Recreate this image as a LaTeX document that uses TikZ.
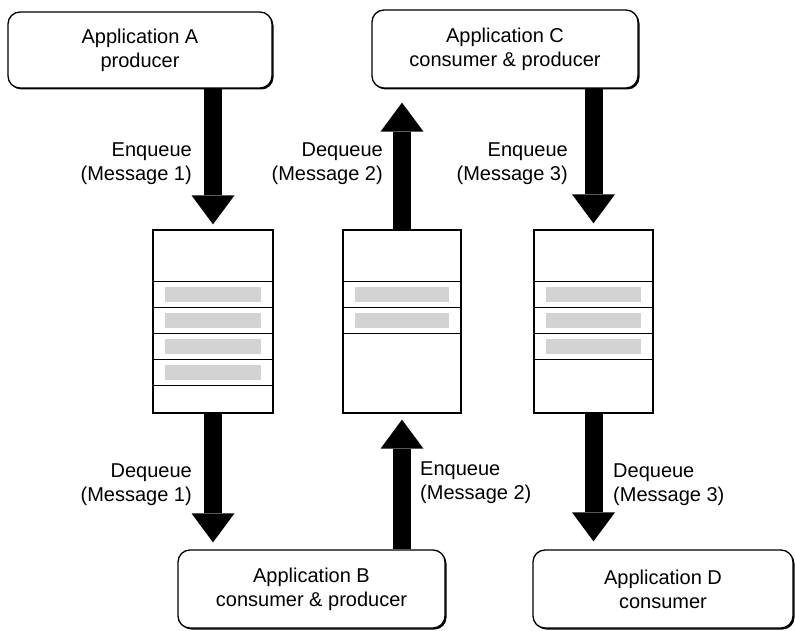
\documentclass[tikz,border=0pt]{standalone}
\usepackage{fontspec}
\setmainfont{Liberation Sans}
\usetikzlibrary{arrows.meta,calc,shadows}
\definecolor{slot}{RGB}{211,211,211}
\begin{document}
\begin{tikzpicture}[x=1pt,y=-1pt,
  txt/.style={font=\fontsize{20}{24}\selectfont, inner sep=0pt},
  app/.style={txt, draw, line width=1.3pt, fill=white, rounded corners=12pt,
    minimum width=#1, minimum height=78pt, align=center,
    drop shadow={shadow xshift=1.5pt, shadow yshift=-1.5pt, opacity=1, fill=black}},
  queue/.style={draw, line width=1.3pt, fill=white, minimum width=#1,
    minimum height=183pt, inner sep=0pt},
  divider/.style={line width=1.2pt},
  bigarrow/.style={line width=18pt,
    -{Triangle[width=43pt,length=29pt,line width=0pt]}},
  lbl/.style={txt}
]
\useasboundingbox (0,0) rectangle (795,631);

% application boxes
\node[app=264pt, minimum height=76pt] (A) at (140,50)    {Application A\\producer};
\node[app=266pt] (C) at (505,49)    {Application C\\consumer \& producer};
\node[app=267pt] (B) at (311.5,589) {Application B\\consumer \& producer};
\node[app=260pt] (D) at (663,589)   {Application D\\consumer};

% queues
\node[queue=120pt] (q1) at (213,321.5) {};
\node[queue=118pt] (q2) at (402,321.5) {};
\node[queue=119pt] (q3) at (593.5,321.5) {};

% queue compartments and stored messages
\foreach \q/\dl/\ml in {q1/{52,78,104,130,156}/{52,78,104,130},
                        q2/{52,78,104}/{52,78},
                        q3/{52,78,104,130}/{52,78,104}}{
  \foreach \d in \dl
    \draw[divider] ($(\q.north west)+(0,\d)$) -- ($(\q.north east)+(0,\d)$);
  \foreach \d in \ml
    \fill[slot] ($(\q.north west)+(13,\d+6)$) rectangle ($(\q.north east)+(-13,\d+21)$);
}

% message flow
\draw[bigarrow, shorten >=5pt] (A.south -| q1.north) -- (q1.north);
\draw[bigarrow, shorten >=7pt] (q1.south) -- (q1.south |- B.north);
\draw[bigarrow, shorten >=6pt] (B.north -| q2.south) -- (q2.south);
\draw[bigarrow, shorten >=14pt] (q2.north) -- (q2.north |- C.south);
\draw[bigarrow, shorten >=6pt] (C.south -| q3.north) -- (q3.north);
\draw[bigarrow, shorten >=8pt] (q3.south) -- (q3.south |- D.north);

% operation labels
\node[lbl, anchor=east, align=right] (l1) at (192,164) {Enqueue\\(Message 1)};
\node[lbl, anchor=east, align=right] (l2) at (383,164) {Dequeue\\(Message 2)};
\node[lbl, anchor=east, align=right] (l3) at (568,164) {Enqueue\\(Message 3)};
\node[lbl, anchor=east, align=right] (l4) at (192,485) {Dequeue\\(Message 1)};
\node[lbl, anchor=west, align=left]  (l5) at (420,483) {Enqueue\\(Message 2)};
\node[lbl, anchor=west, align=left]  (l6) at (613,485) {Dequeue\\(Message 3)};
\end{tikzpicture}
\end{document}
